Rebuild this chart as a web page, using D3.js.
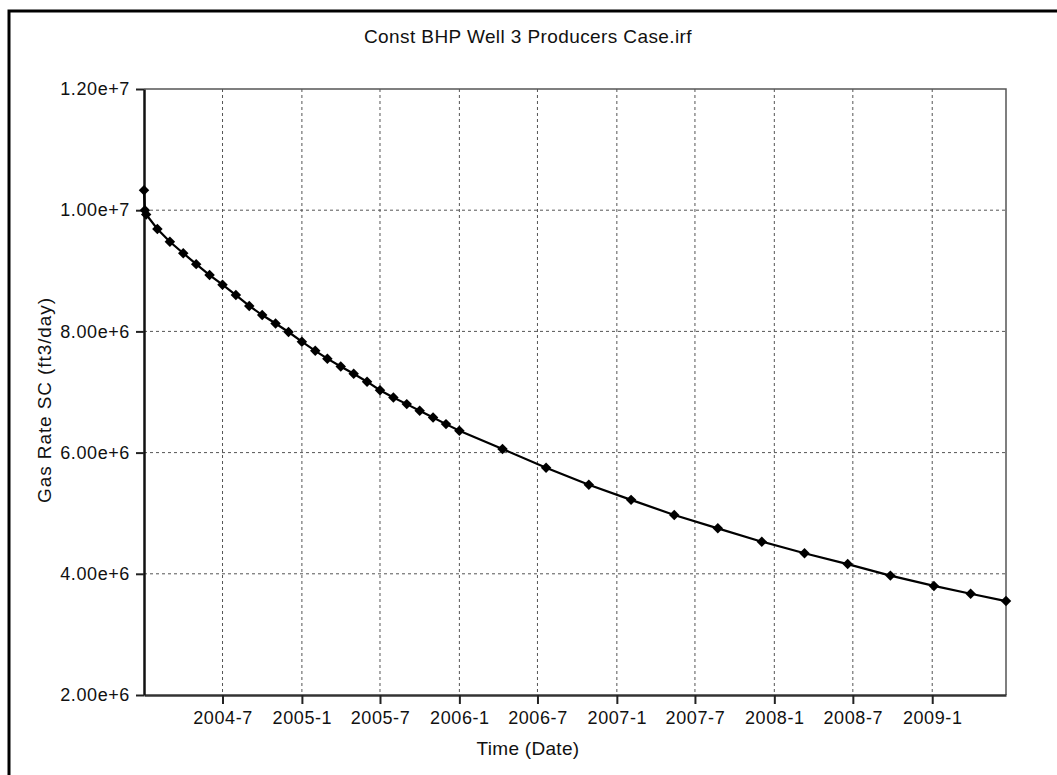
<!DOCTYPE html>
<html>
<head>
<meta charset="utf-8">
<title>Const BHP Well 3 Producers Case.irf</title>
<script src="https://d3js.org/d3.v7.min.js"></script>
<style>
body {margin:0; background:white;}
svg {font-family:"Liberation Sans", Arial, sans-serif;}
.grid line {stroke:#555; stroke-width:1; stroke-dasharray:3,3;}
</style>
</head>
<body>
<svg width="1057" height="775"></svg>

<script>
// time of each output and gas rate at SC (ft3/day)
var dates = ["2004-01-01", "2004-01-03", "2004-01-06",
  "2004-02-01", "2004-03-01", "2004-04-01", "2004-05-01", "2004-06-01", "2004-07-01",
  "2004-08-01", "2004-09-01", "2004-10-01", "2004-11-01", "2004-12-01",
  "2005-01-01", "2005-02-01", "2005-03-01", "2005-04-01", "2005-05-01", "2005-06-01",
  "2005-07-01", "2005-08-01", "2005-09-01", "2005-10-01", "2005-11-01", "2005-12-01",
  "2006-01-01", "2006-04-11", "2006-07-21", "2006-10-28", "2007-02-03", "2007-05-14",
  "2007-08-23", "2007-12-03", "2008-03-11", "2008-06-19", "2008-09-26", "2009-01-05",
  "2009-03-31", "2009-06-21"];
var gasRate = [1.033e7, 1.0e7, 9.93e6,
  9.69e6, 9.48e6, 9.29e6, 9.11e6, 8.93e6, 8.77e6,
  8.60e6, 8.42e6, 8.27e6, 8.13e6, 7.99e6,
  7.83e6, 7.68e6, 7.55e6, 7.42e6, 7.30e6, 7.17e6,
  7.03e6, 6.91e6, 6.80e6, 6.69e6, 6.58e6, 6.47e6,
  6.36e6, 6.06e6, 5.75e6, 5.47e6, 5.22e6, 4.97e6,
  4.75e6, 4.53e6, 4.34e6, 4.16e6, 3.97e6, 3.80e6,
  3.67e6, 3.55e6];
var xTicks = ["2004-07-01", "2005-01-01", "2005-07-01", "2006-01-01", "2006-07-01",
  "2007-01-01", "2007-07-01", "2008-01-01", "2008-07-01", "2009-01-01"];
var yTicks = [2e6, 4e6, 6e6, 8e6, 1e7, 1.2e7];
var yTickLabels = ["2.00e+6", "4.00e+6", "6.00e+6", "8.00e+6", "1.00e+7", "1.20e+7"];

var parse = d3.timeParse("%Y-%m-%d");
var data = dates.map(function(d, i) { return {t: parse(d), v: gasRate[i]}; });

var leftX = 144, rightX = 1006, topY = 89, bottomY = 695;
var svg = d3.select("svg");

// outer frame
svg.append("rect")
  .attr("x", 9).attr("y", 11)
  .attr("width", 1200).attr("height", 900)
  .attr("fill", "none").attr("stroke", "black").attr("stroke-width", 3);

var x = d3.scaleTime()
  .domain([parse("2004-01-01"), parse("2009-06-21")])
  .range([leftX, rightX]);
var y = d3.scaleLinear().domain([2e6, 1.2e7]).range([bottomY, topY]);

// grid
svg.append("g").attr("class", "grid")
  .selectAll("line").data(xTicks).enter().append("line")
  .attr("x1", function(d) { return x(parse(d)); })
  .attr("x2", function(d) { return x(parse(d)); })
  .attr("y1", topY).attr("y2", bottomY);
svg.append("g").attr("class", "grid")
  .selectAll("line").data(yTicks.slice(1, -1)).enter().append("line")
  .attr("y1", function(d) { return y(d); })
  .attr("y2", function(d) { return y(d); })
  .attr("x1", leftX).attr("x2", rightX);

// top and right border
svg.append("path")
  .attr("d", "M" + leftX + "," + topY + "H" + rightX + "V" + bottomY)
  .attr("fill", "none").attr("stroke", "#555").attr("stroke-width", 1.5);

var xAxis = d3.axisBottom(x)
  .tickValues(xTicks.map(parse))
  .tickFormat(d3.timeFormat("%Y-%-m"))
  .tickSize(9).tickSizeOuter(0).tickPadding(7);
var gx = svg.append("g")
  .attr("transform", "translate(0," + bottomY + ")")
  .style("font-size", "18px").style("letter-spacing", "0.6px")
  .call(xAxis);
gx.select(".domain").attr("stroke", "#333").attr("stroke-width", 2.5);
gx.selectAll(".tick line").attr("stroke", "#222").attr("stroke-width", 2);

var yAxis = d3.axisLeft(y)
  .tickValues(yTicks)
  .tickFormat(function(d, i) { return yTickLabels[i]; })
  .tickSize(8).tickSizeOuter(0).tickPadding(6);
var gy = svg.append("g")
  .attr("transform", "translate(" + leftX + ",0)")
  .style("font-size", "18px").style("letter-spacing", "0.6px")
  .call(yAxis);
gy.select(".domain").attr("stroke", "#111").attr("stroke-width", 2.5);
gy.selectAll(".tick line").attr("stroke", "#222").attr("stroke-width", 2);
svg.selectAll(".tick text").attr("fill", "#111");

// curve
var line = d3.line()
  .x(function(d) { return x(d.t); })
  .y(function(d) { return y(d.v); });
svg.append("path").datum(data)
  .attr("d", line)
  .attr("fill", "none").attr("stroke", "black").attr("stroke-width", 2.2);

svg.append("g").selectAll("path").data(data).enter().append("path")
  .attr("d", d3.symbol().type(d3.symbolDiamond2).size(70))
  .attr("transform", function(d) { return "translate(" + x(d.t) + "," + y(d.v) + ")"; })
  .attr("fill", "black");

// titles
svg.append("text")
  .attr("x", 528).attr("y", 43)
  .attr("text-anchor", "middle")
  .style("font-size", "19px").style("letter-spacing", "0.4px").attr("fill", "#111")
  .text("Const BHP Well 3 Producers Case.irf");
svg.append("text")
  .attr("x", 528).attr("y", 755)
  .attr("text-anchor", "middle")
  .style("font-size", "19px").style("letter-spacing", "0.3px").attr("fill", "#111")
  .text("Time (Date)");
svg.append("text")
  .attr("transform", "translate(51,400) rotate(-90)")
  .attr("text-anchor", "middle")
  .style("font-size", "19px").style("letter-spacing", "0.9px").attr("fill", "#111")
  .text("Gas Rate SC (ft3/day)");
</script>
</body>
</html>
